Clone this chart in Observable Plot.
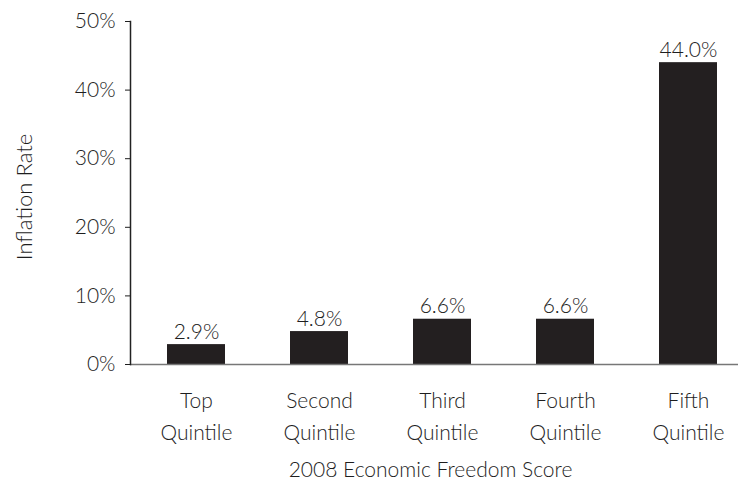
<!DOCTYPE html>
<html><head><meta charset="utf-8">
<script src="https://cdn.jsdelivr.net/npm/d3@7"></script>
<script src="https://cdn.jsdelivr.net/npm/@observablehq/plot@0.6"></script>
<style>body{margin:0;background:#fff} svg{display:block}</style>
</head><body><div id="chart"></div>
<script>
const categories = ["Top Quintile", "Second Quintile", "Third Quintile", "Fourth Quintile", "Fifth Quintile"];
const tickLabels = ["Top\nQuintile", "Second\nQuintile", "Third\nQuintile", "Fourth\nQuintile", "Fifth\nQuintile"];
const inflation = [2.9, 4.8, 6.6, 6.6, 44.0];
const yTicks = [0, 10, 20, 30, 40, 50];
const yLabel = "Inflation Rate";
const xLabel = "2008 Economic Freedom Score";

const data = categories.map((c, i) => ({category: c, value: inflation[i], label: inflation[i].toFixed(1) + "%"}));
const labelOf = new Map(categories.map((c, i) => [c, tickLabels[i]]));

const chart = Plot.plot({
  width: 738, height: 485,
  marginLeft: 130, marginRight: 0, marginTop: 21, marginBottom: 121,
  style: {fontFamily: "Lato, sans-serif", fontWeight: 300, fontSize: "21px", color: "#1e1e1e", background: "#fff"},
  x: {domain: categories, range: [130, 753], paddingInner: 0.53, paddingOuter: 0.29, axis: null},
  y: {domain: [0, 50], axis: null},
  marks: [
    Plot.barY(data, {x: "category", y: "value", fill: "#231f20"}),
    Plot.ruleY([0], {stroke: "#777", strokeWidth: 1.5}),
    Plot.frame({anchor: "left", stroke: "#222", strokeWidth: 1.5}),
    Plot.axisY({ticks: yTicks, tickFormat: d => d + "%", tickSize: 5, tickPadding: 10, label: null, fontSize: 21}),
    Plot.axisX({tickSize: 0, tickPadding: 20, tickFormat: d => labelOf.get(d), lineHeight: 1.55, label: null, fontSize: 21}),
    Plot.text(data, {x: "category", y: "value", text: "label", lineAnchor: "bottom", dy: -6, fill: "#1e1e1e", fontSize: 21}),
    Plot.text([xLabel], {text: d => d, frameAnchor: "bottom", dx: -4, dy: 112, lineAnchor: "bottom", fill: "#1e1e1e", fontSize: 21}),
    Plot.text([yLabel], {text: d => d, frameAnchor: "left", textAnchor: "middle", dx: -106, dy: 4, rotate: -90, fill: "#1e1e1e", fontSize: 22})
  ]
});
document.getElementById("chart").appendChild(chart);
</script>
</body></html>
